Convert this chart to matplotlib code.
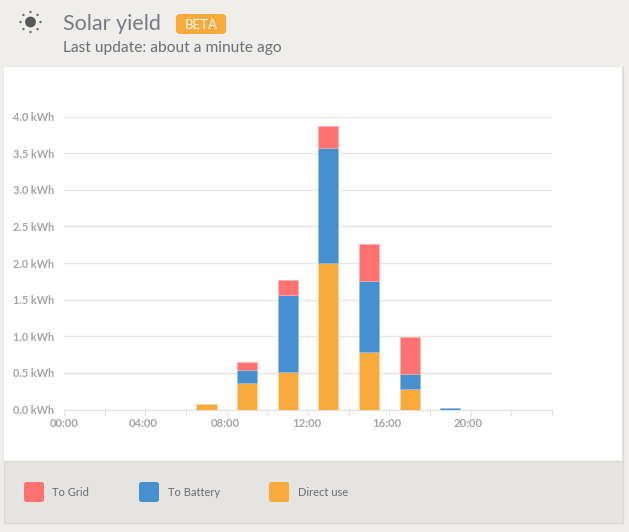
import math
import matplotlib
matplotlib.use('Agg')
import matplotlib.pyplot as plt
from matplotlib.patches import FancyBboxPatch, Rectangle, Circle

plt.rcParams['font.family'] = ['Lato', 'DejaVu Sans']

# Values, kWh per two hour bucket
hours = [7, 9, 11, 13, 15, 17, 19]
direct_use = [0.08, 0.365, 0.515, 2.0, 0.78, 0.275, 0.0]
to_battery = [0.0, 0.175, 1.045, 1.57, 0.97, 0.215, 0.025]
to_grid = [0.0, 0.105, 0.21, 0.30, 0.51, 0.50, 0.0]

y_ticks = [0.0, 0.5, 1.0, 1.5, 2.0, 2.5, 3.0, 3.5, 4.0]
x_label_hours = [0, 4, 8, 12, 16, 20]
x_labels = ['00:00', '04:00', '08:00', '12:00', '16:00', '20:00']
legend_names = ['To Grid', 'To Battery', 'Direct use']

RED = '#ff7272'
BLUE = '#4790d0'
ORANGE = '#f8aa3d'
W, H = 629, 532

fig = plt.figure(figsize=(W / 100, H / 100), dpi=100, facecolor='#f0eeea')

# page furniture, in pixel coordinates
bg = fig.add_axes([0, 0, 1, 1])
bg.set_xlim(0, W)
bg.set_ylim(H, 0)
bg.axis('off')
bg.add_patch(Rectangle((3.5, 66.5), 619, 456, fc='#e6e4e0', ec='#dcdad6', lw=1))
bg.add_patch(Rectangle((4, 67), 618, 394, fc='white', ec='none'))
bg.plot([4, 622], [461, 461], color='#dcdad6', lw=1)

# sun icon
bg.add_patch(Circle((30.5, 22), 5.4, fc='#58585a', ec='none'))
for i in range(8):
    a = i * math.pi / 4
    bg.add_patch(Circle((30.5 + 10 * math.cos(a), 22 + 10 * math.sin(a)), 1.2, fc='#6a6a6c', ec='none'))

bg.text(63, 24.5, 'Solar yield', fontsize=15.5, color='#757a85', va='center', ha='left')
bg.add_patch(FancyBboxPatch((178, 16), 46, 16, boxstyle='round,pad=2,rounding_size=4', fc=ORANGE, ec='none'))
bg.text(201, 25, 'BETA', fontsize=9.5, color='white', va='center', ha='center')
bg.text(63, 48, 'Last update: about a minute ago', fontsize=11.2, color='#6a6f7a', va='center', ha='left')

# legend
for x0, tx, name, c in zip([24, 139, 269], [52.5, 168, 298], legend_names, [RED, BLUE, ORANGE]):
    bg.add_patch(FancyBboxPatch((x0 + 2, 484), 16, 16, boxstyle='round,pad=2,rounding_size=2.5', fc=c, ec='none'))
    bg.text(tx, 492.5, name, fontsize=8, color='#686c74', va='center', ha='left')

# chart
left, right, top, bottom = 64, 552, 116.5, 409.5
ax = fig.add_axes([left / W, 1 - bottom / H, (right - left) / W, (bottom - top) / H])
ax.patch.set_alpha(0)
ax.set_xlim(0, 24)
ax.set_ylim(0, 4)
ax.set_yticks(y_ticks)
ax.set_yticklabels(['%.1f kWh' % v for v in y_ticks])
ax.set_xticks(range(0, 25, 2))
ax.set_xticklabels([])
ax.grid(axis='y', color='#e6e6e6', lw=1)
ax.set_axisbelow(True)
for s in ['top', 'left', 'right']:
    ax.spines[s].set_visible(False)
ax.spines['bottom'].set_color('#e0e0e0')
ax.tick_params(axis='x', length=4, color='#e0e0e0', pad=4)
ax.tick_params(axis='y', length=0, pad=7, labelsize=7.8, labelcolor='#a5a5a5')
for lab in ax.get_yticklabels():
    lab.set_fontweight('bold')

# the 04:00 label sits a little further left than the others in the original
for h, name in zip(x_label_hours, x_labels):
    nudge = -2 / (right - left) if h == 4 else 0
    ax.text(h * 0.9934 / 24 + nudge, -0.048, name, transform=ax.transAxes, ha='center', va='center',
            fontsize=8.2, color='#a5a5a5', fontweight='bold')

# stack the series, skipping empty segments so they leave no edge line
base = [0.0] * len(hours)
for values, c, edge, lw in [(direct_use, ORANGE, '#fbd49e', 0.6),
                            (to_battery, BLUE, '#8fbce3', 0.4),
                            (to_grid, RED, '#ffb0b0', 0.4)]:
    keep = [i for i, v in enumerate(values) if v > 0]
    ax.bar([hours[i] for i in keep], [values[i] for i in keep], width=1.0,
           bottom=[base[i] for i in keep], color=c, edgecolor=edge, linewidth=lw, zorder=3)
    base = [b + v for b, v in zip(base, values)]

fig.savefig('out.png', dpi=100, facecolor=fig.get_facecolor())
